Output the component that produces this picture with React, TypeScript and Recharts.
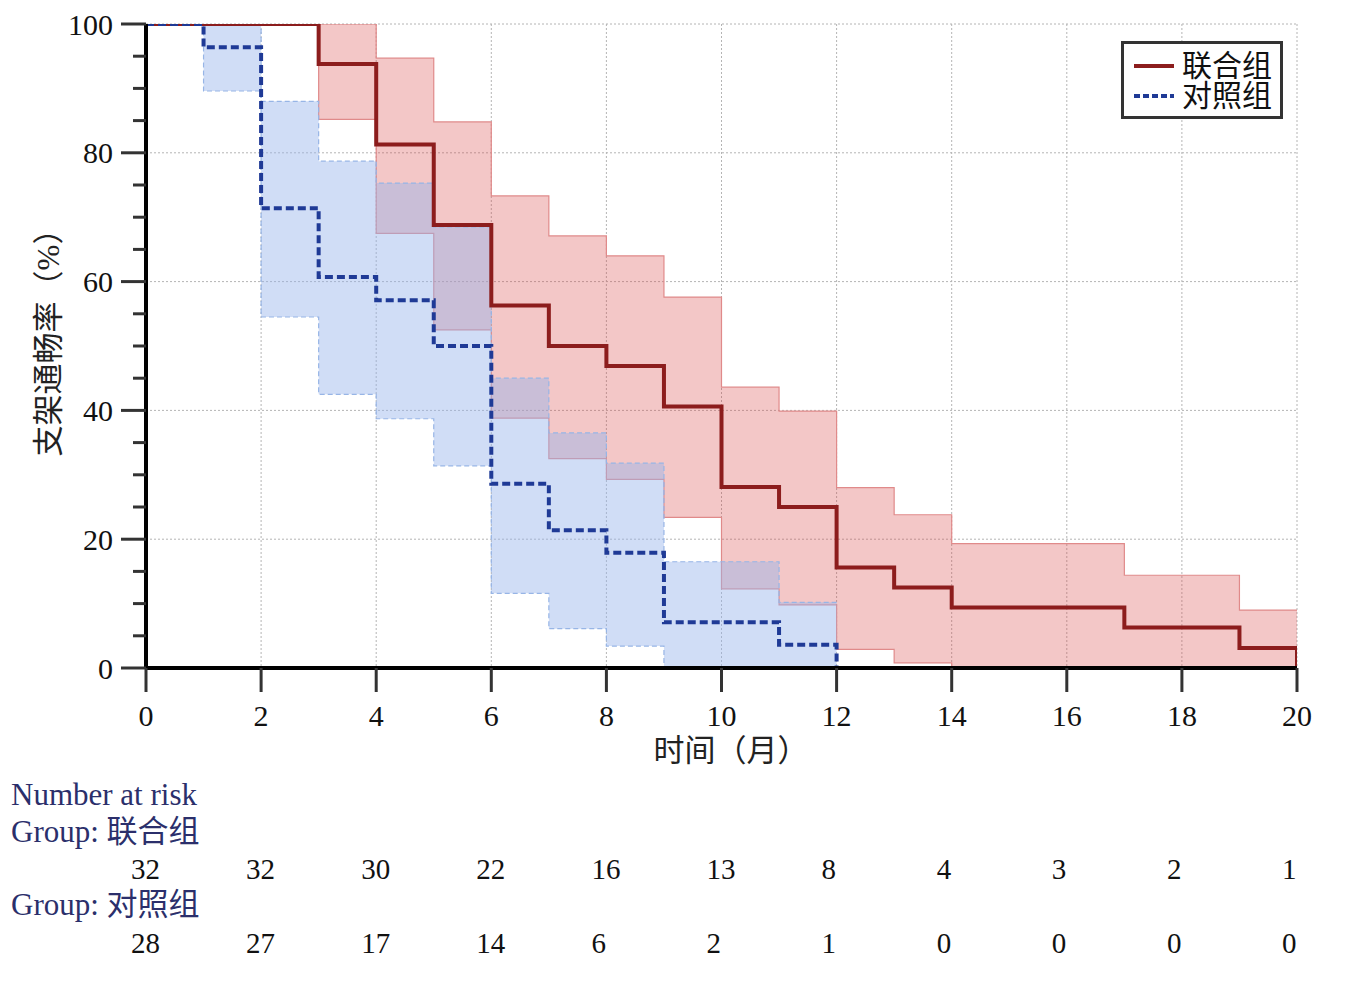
import React from "react";
import {
  Area,
  CartesianGrid,
  ComposedChart,
  Label,
  Legend,
  Line,
  Scatter,
  ScatterChart,
  XAxis,
  YAxis,
} from "recharts";

const FONT = '"Liberation Serif", "Noto Sans CJK SC", serif';

// months 0..20, value of each step starts at that month
const MONTHS = [0, 1, 2, 3, 4, 5, 6, 7, 8, 9, 10, 11, 12, 13, 14, 15, 16, 17, 18, 19, 20];

// 联合组
const COMBINED_SURV = [100, 100, 100, 93.8, 81.3, 68.8, 56.3, 50.0, 46.9, 40.6, 28.1, 25.0, 15.6, 12.5, 9.4, 9.4, 9.4, 6.3, 6.3, 3.1, 0];
const COMBINED_LOW = [100, 100, 100, 85.2, 67.5, 52.5, 38.8, 32.5, 29.3, 23.4, 12.3, 9.8, 2.9, 0.8, 0, 0, 0, 0, 0, 0, 0];
const COMBINED_HIGH = [100, 100, 100, 100, 94.7, 84.8, 73.3, 67.1, 64.0, 57.6, 43.6, 39.9, 28.0, 23.8, 19.3, 19.3, 19.3, 14.4, 14.4, 9.0, 9.0];

// 对照组 (ends at month 12)
const CONTROL_SURV = [100, 96.4, 71.4, 60.7, 57.1, 50.0, 28.6, 21.4, 17.9, 7.1, 7.1, 3.6, 0];
const CONTROL_LOW = [100, 89.6, 54.5, 42.5, 38.7, 31.4, 11.6, 6.1, 3.4, 0, 0, 0, 0];
const CONTROL_HIGH = [100, 100, 88.0, 78.7, 75.3, 68.5, 45.0, 36.5, 31.8, 16.5, 16.5, 10.2, 10.2];

const X_TICKS = [0, 2, 4, 6, 8, 10, 12, 14, 16, 18, 20];
const Y_TICKS = [0, 5, 10, 15, 20, 25, 30, 35, 40, 45, 50, 55, 60, 65, 70, 75, 80, 85, 90, 95, 100];
const Y_GRID = [20, 40, 60, 80, 100];
const X_GRID = [2, 4, 6, 8, 10, 12, 14, 16, 18, 20];

const AT_RISK_COMBINED = [32, 32, 30, 22, 16, 13, 8, 4, 3, 2, 1];
const AT_RISK_CONTROL = [28, 27, 17, 14, 6, 2, 1, 0, 0, 0, 0];

const RED = "#8c1d1d";
const BLUE = "#1f3a96";

const rows = MONTHS.map((t, i) => {
  const hasControl = CONTROL_SURV[i] !== undefined;
  return {
    t,
    combined: COMBINED_SURV[i],
    combinedBand: [COMBINED_LOW[i], COMBINED_HIGH[i]],
    control: hasControl ? CONTROL_SURV[i] : null,
    controlBand: hasControl ? [CONTROL_LOW[i], CONTROL_HIGH[i]] : [null, null],
  };
});

const riskCombined = X_TICKS.map((t, i) => ({ t, row: 1, n: AT_RISK_COMBINED[i] }));
const riskControl = X_TICKS.map((t, i) => ({ t, row: 0, n: AT_RISK_CONTROL[i] }));

function YTick(props: any) {
  const { x, y, payload } = props;
  const major = payload.value % 20 === 0;
  return (
    <g>
      <line x1={x - (major ? 25 : 13)} x2={x} y1={y} y2={y} stroke="#333" strokeWidth={3} />
      {major ? (
        <text x={x - 33} y={y} textAnchor="end" dominantBaseline="central" fontSize={30} fontFamily={FONT} fill="#111">
          {payload.value}
        </text>
      ) : null}
    </g>
  );
}

function XTick(props: any) {
  const { x, y, payload } = props;
  return (
    <text x={x} y={y} textAnchor="middle" dominantBaseline="central" fontSize={30} fontFamily={FONT} fill="#111">
      {payload.value}
    </text>
  );
}

function LegendBox() {
  const row = (label: string, color: string, dash?: string) => (
    <div style={{ display: "flex", alignItems: "center", height: 30 }}>
      <svg width={50} height={8}>
        <line x1={2} x2={42} y1={4} y2={4} stroke={color} strokeWidth={4} strokeDasharray={dash} />
      </svg>
      <span style={{ fontSize: 30, fontFamily: FONT, color: "#111", lineHeight: "30px" }}>{label}</span>
    </div>
  );
  return (
    <div
      style={{
        boxSizing: "border-box",
        width: 162,
        height: 78,
        border: "3px solid #333",
        background: "#fff",
        padding: "7px 0 0 8px",
      }}
    >
      {row("联合组", RED)}
      {row("对照组", BLUE, "6 3")}
    </div>
  );
}

function RiskNumber(props: any) {
  const { cx, cy, payload } = props;
  return (
    <text x={cx - 15} y={cy} fontSize={29} fontFamily={FONT} fill="#111">
      {payload.n}
    </text>
  );
}

export default function App() {
  return (
    <div style={{ position: "absolute", left: 0, top: 0, width: 1358, height: 986, background: "#fff" }}>
      <ComposedChart width={1358} height={780} data={rows} margin={{ top: 24, right: 61, bottom: 12, left: 0 }}>
        <CartesianGrid
          stroke="#b4b4b4"
          strokeDasharray="2 2"
          horizontalValues={Y_GRID}
          verticalValues={X_GRID}
        />
        <XAxis
          dataKey="t"
          type="number"
          domain={[0, 20]}
          ticks={X_TICKS}
          interval={0}
          height={100}
          tickSize={24}
          tickMargin={23}
          tick={<XTick />}
          tickLine={{ stroke: "#333", strokeWidth: 3 }}
          axisLine={{ stroke: "#000", strokeWidth: 4 }}
          allowDataOverflow
        >
          <Label
            content={() => (
              <text x={731} y={761} textAnchor="middle" fontSize={31} fontFamily={FONT} fill="#222">
                时间（月）
              </text>
            )}
          />
        </XAxis>
        <YAxis
          type="number"
          domain={[0, 100]}
          ticks={Y_TICKS}
          interval={0}
          width={146}
          tickSize={0}
          tickMargin={0}
          tickLine={false}
          tick={<YTick />}
          axisLine={{ stroke: "#000", strokeWidth: 4 }}
          allowDataOverflow
        >
          <Label
            content={() => (
              <text
                transform="translate(48,335) rotate(-90)"
                textAnchor="middle"
                dominantBaseline="central"
                fontSize={31}
                fontFamily={FONT}
                fill="#222"
              >
                支架通畅率（%）
              </text>
            )}
          />
        </YAxis>
        <Area
          dataKey="combinedBand"
          type="stepAfter"
          fill="rgb(214, 70, 70)"
          fillOpacity={0.3}
          stroke="#e08a8a"
          strokeWidth={1.2}
          isAnimationActive={false}
          legendType="none"
        />
        <Area
          dataKey="controlBand"
          type="stepAfter"
          fill="rgb(150, 180, 235)"
          fillOpacity={0.45}
          stroke="#97b5e6"
          strokeWidth={1.2}
          strokeDasharray="5 3"
          isAnimationActive={false}
          legendType="none"
        />
        <Line
          dataKey="combined"
          type="stepAfter"
          stroke={RED}
          strokeWidth={4}
          dot={false}
          activeDot={false}
          isAnimationActive={false}
        />
        <Line
          dataKey="control"
          type="stepAfter"
          stroke={BLUE}
          strokeWidth={4}
          strokeDasharray="8 4"
          dot={false}
          activeDot={false}
          isAnimationActive={false}
        />
        <Legend
          layout="vertical"
          align="center"
          verticalAlign="middle"
          wrapperStyle={{ left: 1121, top: 41, width: 162, height: 78 }}
          content={() => <LegendBox />}
        />
      </ComposedChart>

      <svg
        width={320}
        height={216}
        style={{ position: "absolute", left: 0, top: 765, overflow: "visible" }}
        fontFamily={FONT}
        fontSize={31}
        fill="#2b2f6b"
      >
        <text x={11} y={40}>Number at risk</text>
        <text x={11} y={77}>Group: 联合组</text>
        <text x={11} y={150}>Group: 对照组</text>
      </svg>

      <div style={{ position: "absolute", left: 0, top: 780 }}>
        <ScatterChart width={1358} height={206} margin={{ top: 99, right: 61, bottom: 33, left: 146 }}>
          <XAxis dataKey="t" type="number" domain={[0, 20]} hide />
          <YAxis dataKey="row" type="number" domain={[0, 1]} hide />
          <Scatter data={riskCombined} shape={<RiskNumber />} isAnimationActive={false} />
          <Scatter data={riskControl} shape={<RiskNumber />} isAnimationActive={false} />
        </ScatterChart>
      </div>
    </div>
  );
}
